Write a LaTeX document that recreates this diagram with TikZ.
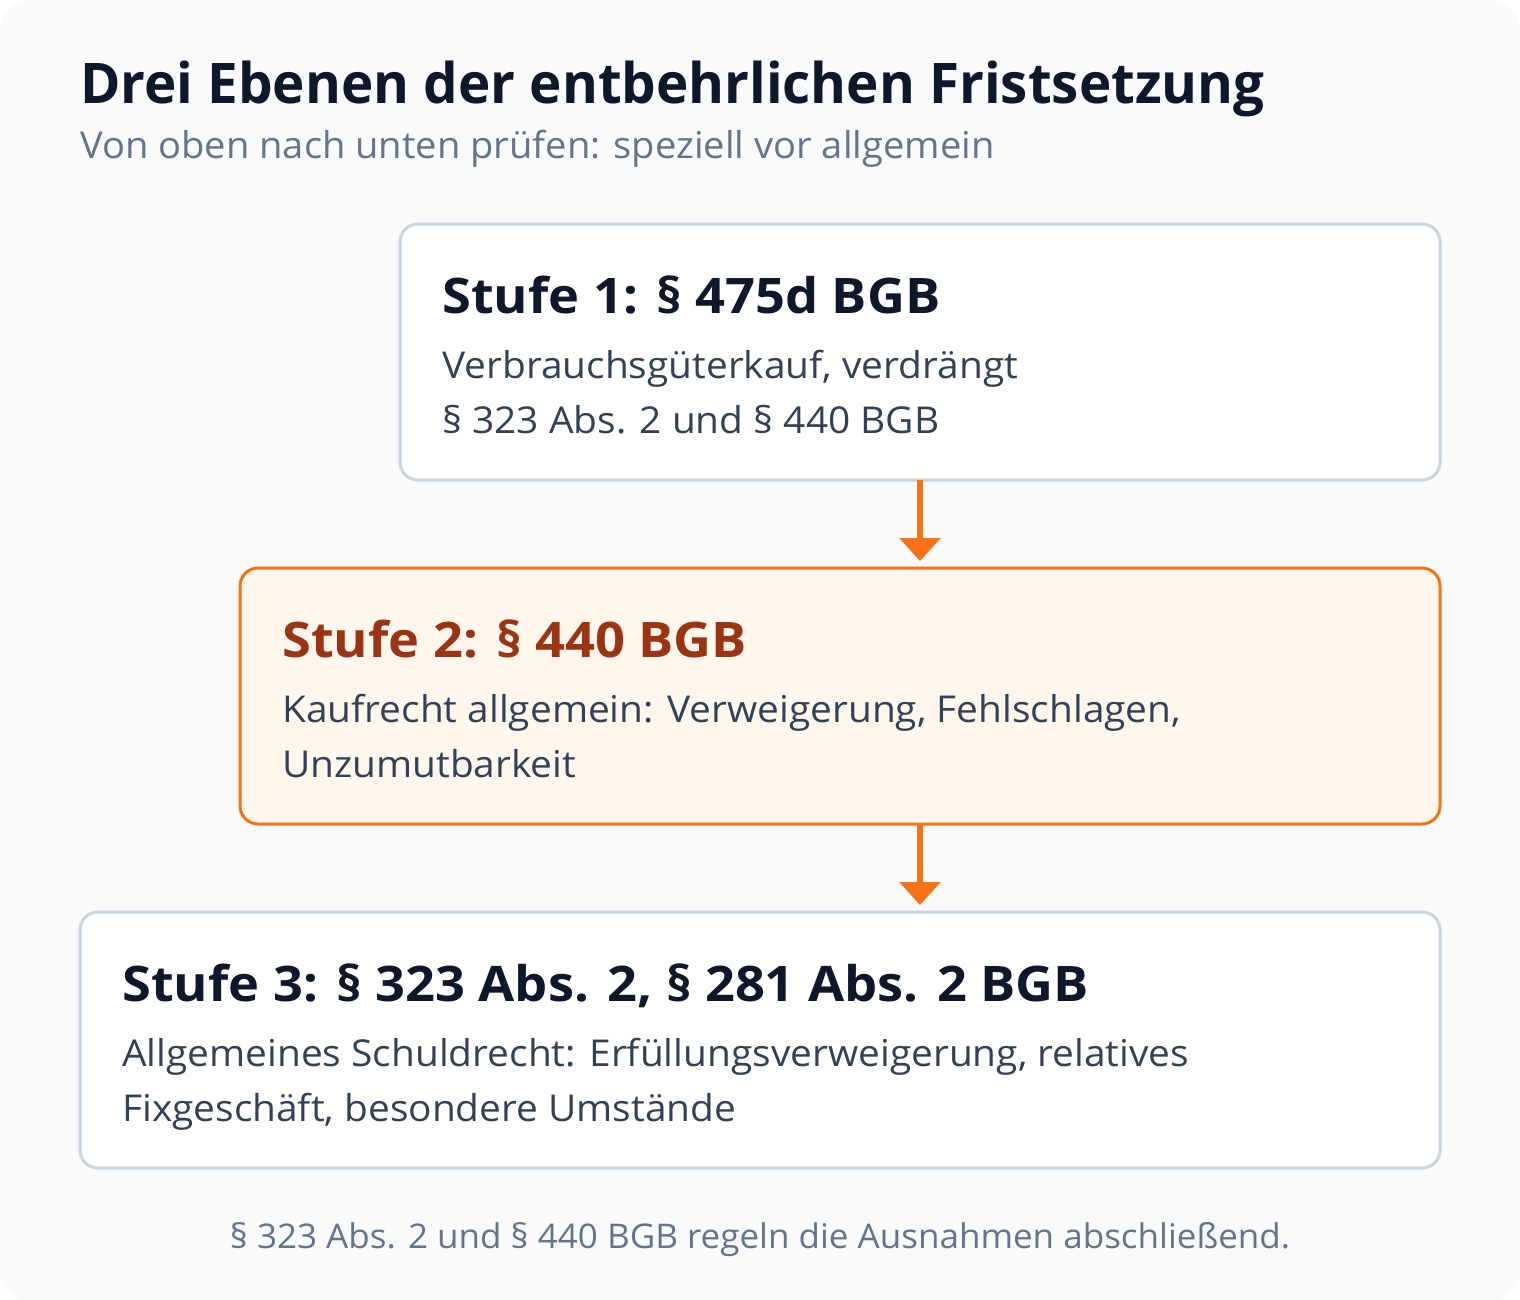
\documentclass[tikz,border=0pt]{standalone}
\usepackage{fontspec}
\setmainfont{Open Sans}
\newfontfamily\titlef[FakeStretch=0.977]{Open Sans}
\newfontfamily\headf[FakeStretch=1.07]{Open Sans}
\newfontfamily\bodyf[FakeStretch=1.05]{Open Sans}
\newfontfamily\subf[FakeStretch=1.03]{Open Sans}
\usetikzlibrary{arrows.meta}
\definecolor{bgc}{HTML}{F8FAFC}
\definecolor{ink}{HTML}{0F172A}
\definecolor{body}{HTML}{334155}
\definecolor{muted}{HTML}{64748B}
\definecolor{bline}{HTML}{CBD5E1}
\definecolor{orng}{HTML}{F97316}
\definecolor{ofill}{HTML}{FFF7ED}
\definecolor{otext}{HTML}{9A3412}
\tikzset{
  card/.style={draw=bline, line width=3pt, fill=white, rounded corners=18pt, inner sep=0pt, outer sep=0pt},
  hicard/.style={card, draw=orng, fill=ofill},
  ttl/.style={anchor=base west, inner sep=0pt, font=\titlef\fontsize{56}{68}\selectfont\bfseries, text=ink},
  sub/.style={anchor=base west, inner sep=0pt, font=\subf\fontsize{37}{44}\selectfont, text=muted},
  head/.style={anchor=base west, inner sep=0pt, font=\headf\fontsize{49}{58}\selectfont\bfseries, text=ink},
  txt/.style={anchor=base west, inner sep=0pt, font=\bodyf\fontsize{37}{55}\selectfont, text=body},
  foot/.style={anchor=base, inner sep=0pt, font=\subf\fontsize{34}{40}\selectfont, text=muted},
  arr/.style={draw=orng, line width=6pt, -{Triangle[width=40pt,length=23pt]}, shorten >=7pt},
}
\begin{document}
\begin{tikzpicture}[x=1pt,y=-1pt]
\useasboundingbox (0,0) rectangle (1520,1300);
\fill[white] (0,0) rectangle (1520,1300);
\fill[bgc, rounded corners=28pt] (0,0) rectangle (1520,1300);

\node[ttl] (title) at (80,104) {Drei Ebenen der entbehrlichen Fristsetzung};
\node[sub] (subtitle) at (80,159) {Von oben nach unten prüfen: speziell vor allgemein};

\node[card, minimum width=1040pt, minimum height=256pt] (s1) at (920,352) {};
\node[hicard, minimum width=1200pt, minimum height=256pt] (s2) at (840,696) {};
\node[card, minimum width=1360pt, minimum height=256pt] (s3) at (760,1040) {};

\node[head] (h1) at (442,313) {Stufe 1: § 475d BGB};
\node[txt] (t1a) at (442,378) {Verbrauchsgüterkauf, verdrängt};
\node[txt] (t1b) at (442,433) {§ 323 Abs. 2 und § 440 BGB};

\node[head, text=otext] (h2) at (282,657) {Stufe 2: § 440 BGB};
\node[txt] (t2a) at (282,722) {Kaufrecht allgemein: Verweigerung, Fehlschlagen,};
\node[txt] (t2b) at (282,777) {Unzumutbarkeit};

\node[head] (h3) at (122,1001) {Stufe 3: § 323 Abs. 2, § 281 Abs. 2 BGB};
\node[txt] (t3a) at (122,1066) {Allgemeines Schuldrecht: Erfüllungsverweigerung, relatives};
\node[txt] (t3b) at (122,1121) {Fixgeschäft, besondere Umstände};

\node[foot] (footer) at (760,1248) {§ 323 Abs. 2 und § 440 BGB regeln die Ausnahmen abschließend.};

\draw[arr] (s1.south) -- (s1.south |- s2.north);
\draw[arr] (s1.south |- s2.south) -- (s1.south |- s3.north);
\end{tikzpicture}
\end{document}
